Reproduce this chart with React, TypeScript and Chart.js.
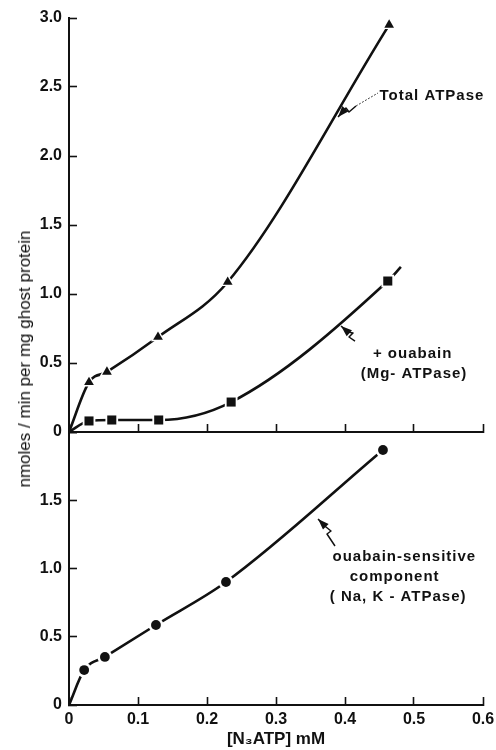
import React, { useEffect, useRef } from 'react';
import { Chart, registerables } from 'chart.js';

Chart.register(...registerables);

const FONT = '"Liberation Sans", Arial, Helvetica, sans-serif';
const INK = '#111';

// Tick labels
const X_TICKS = ['0', '0.1', '0.2', '0.3', '0.4', '0.5', '0.6'];
const TOP_Y_TICKS = ['0', '0.5', '1.0', '1.5', '2.0', '2.5', '3.0'];
const BOTTOM_Y_TICKS = ['0', '0.5', '1.0', '1.5', ''];

// Total ATPase (triangles)
const TOTAL_X = [0.029, 0.055, 0.129, 0.23, 0.464];
const TOTAL_Y = [0.36, 0.435, 0.688, 1.087, 2.95];

// + ouabain (Mg-ATPase) (squares)
const OUABAIN_X = [0.029, 0.062, 0.13, 0.235, 0.462];
const OUABAIN_Y = [0.08, 0.087, 0.087, 0.217, 1.094];
const OUABAIN_CURVE_END = { x: 0.481, y: 1.196 };

// ouabain-sensitive component (Na,K-ATPase) (circles)
const SENSITIVE_X = [0.022, 0.052, 0.126, 0.2275, 0.455];
const SENSITIVE_Y = [0.256, 0.352, 0.586, 0.901, 1.868];

const CURVE_ORIGIN = { x: 0, y: 0 };

type P = { x: number; y: number };
type Note = {
  texts: { t: string; x: number; y: number }[];
  arrow: P[];
  tail?: P[];
};

const TOP_NOTES: Note[] = [
  {
    texts: [{ t: 'Total ATPase', x: 0.526, y: 2.435 }],
    arrow: [
      { x: 0.3899, y: 2.2826 },
      { x: 0.4014, y: 2.3478 },
      { x: 0.4058, y: 2.3188 },
      { x: 0.4159, y: 2.3623 },
    ],
    tail: [
      { x: 0.4159, y: 2.3623 },
      { x: 0.4478, y: 2.4565 },
    ],
  },
  {
    texts: [
      { t: '+ ouabain', x: 0.498, y: 0.565 },
      { t: '(Mg- ATPase)', x: 0.5, y: 0.42 },
    ],
    arrow: [
      { x: 0.3942, y: 0.7681 },
      { x: 0.4043, y: 0.7246 },
      { x: 0.4116, y: 0.7174 },
      { x: 0.4058, y: 0.6884 },
      { x: 0.4145, y: 0.6594 },
    ],
  },
];

const BOTTOM_NOTES: Note[] = [
  {
    texts: [
      { t: 'ouabain-sensitive', x: 0.486, y: 1.084 },
      { t: 'component', x: 0.472, y: 0.938 },
      { t: '( Na, K - ATPase)', x: 0.477, y: 0.791 },
    ],
    arrow: [
      { x: 0.3609, y: 1.3626 },
      { x: 0.3725, y: 1.304 },
      { x: 0.3797, y: 1.2747 },
      { x: 0.3739, y: 1.2527 },
      { x: 0.3855, y: 1.1648 },
    ],
  },
];

const pts = (xs: number[], ys: number[]): P[] => xs.map((x, i) => ({ x, y: ys[i] }));

function seriesDatasets(points: P[], curve: P[], style: string, radius: number): any[] {
  return [
    {
      data: curve,
      showLine: true,
      borderColor: INK,
      borderWidth: 2.6,
      pointRadius: 0,
      cubicInterpolationMode: 'monotone',
      fill: false,
      order: 2,
    },
    {
      data: points,
      showLine: false,
      pointStyle: style,
      pointRadius: radius + 2.6,
      pointBackgroundColor: '#fff',
      pointBorderWidth: 0,
      order: 1,
    },
    {
      data: points,
      showLine: false,
      pointStyle: style,
      pointRadius: radius,
      pointBackgroundColor: INK,
      pointBorderWidth: 0,
      order: 0,
    },
  ];
}

const makeNotesPlugin = (notes: Note[]) => ({
  id: 'notes',
  afterDatasetsDraw(chart: any) {
    const ctx: CanvasRenderingContext2D = chart.ctx;
    const xs = chart.scales.x;
    const ys = chart.scales.y;
    const px = (p: P): [number, number] => [xs.getPixelForValue(p.x), ys.getPixelForValue(p.y)];
    ctx.save();
    notes.forEach((n) => {
      ctx.fillStyle = INK;
      ctx.strokeStyle = INK;
      ctx.font = `bold 15px ${FONT}`;
      (ctx as any).letterSpacing = '1px';
      ctx.textAlign = 'center';
      ctx.textBaseline = 'middle';
      n.texts.forEach((t) => {
        const [x, y] = px(t);
        ctx.fillText(t.t, x, y);
      });
      (ctx as any).letterSpacing = '0px';
      const p = n.arrow.map(px);
      ctx.lineWidth = 1.5;
      ctx.lineJoin = 'round';
      ctx.setLineDash([]);
      ctx.beginPath();
      ctx.moveTo(p[0][0], p[0][1]);
      for (let i = 1; i < p.length; i++) ctx.lineTo(p[i][0], p[i][1]);
      ctx.stroke();
      const [tx, ty] = p[0];
      const [bx, by] = p[1];
      const a = Math.atan2(ty - by, tx - bx);
      const L = 11;
      const W = 4;
      const c = Math.cos(a);
      const s = Math.sin(a);
      ctx.beginPath();
      ctx.moveTo(tx, ty);
      ctx.lineTo(tx - L * c + W * s, ty - L * s - W * c);
      ctx.lineTo(tx - L * c - W * s, ty - L * s + W * c);
      ctx.closePath();
      ctx.fill();
      if (n.tail) {
        const t = n.tail.map(px);
        ctx.lineWidth = 0.8;
        ctx.setLineDash([2, 1.5]);
        ctx.beginPath();
        ctx.moveTo(t[0][0], t[0][1]);
        for (let i = 1; i < t.length; i++) ctx.lineTo(t[i][0], t[i][1]);
        ctx.stroke();
        ctx.setLineDash([]);
      }
    });
    ctx.restore();
  },
});

const axisFont = { family: FONT, size: 16, weight: 'bold' as const };

function xScale(showLabels: boolean): any {
  return {
    type: 'linear',
    min: 0,
    max: 0.6,
    border: { display: true, color: INK, width: 2 },
    grid: {
      display: true,
      drawOnChartArea: false,
      drawTicks: true,
      tickLength: -8,
      tickWidth: 1.6,
      tickColor: INK,
    },
    ticks: {
      display: showLabels,
      stepSize: 0.1,
      padding: 13,
      color: INK,
      font: axisFont,
      maxRotation: 0,
      autoSkip: false,
      callback: (v: number) => X_TICKS[Math.round(v * 10)] ?? '',
    },
    title: showLabels
      ? {
          display: true,
          text: '[N₃ATP] mM',
          color: INK,
          font: { family: FONT, size: 17, weight: 'bold' },
          padding: { top: 0, bottom: 0 },
        }
      : { display: false },
    afterFit: (s: any) => {
      s.height = showLabels ? 45 : 0;
      s.paddingLeft = 0;
      s.paddingRight = 0;
    },
  };
}

function yScale(max: number, labels: string[]): any {
  return {
    type: 'linear',
    min: 0,
    max,
    border: { display: true, color: INK, width: 2 },
    grid: {
      display: true,
      drawOnChartArea: false,
      drawTicks: true,
      tickLength: -8,
      tickWidth: 1.6,
      tickColor: INK,
    },
    ticks: {
      stepSize: 0.5,
      padding: 15,
      color: INK,
      font: axisFont,
      autoSkip: false,
      callback: (v: number) => labels[Math.round(v * 2)] ?? '',
    },
    afterFit: (s: any) => {
      s.width = 69;
      s.paddingTop = 0;
      s.paddingBottom = 0;
    },
  };
}

const commonOptions = (padding: any, xs: any, ys: any): any => ({
  responsive: false,
  animation: false,
  events: [],
  layout: { padding },
  plugins: { legend: { display: false }, tooltip: { enabled: false } },
  scales: { x: xs, y: ys },
});

export default function App() {
  const topRef = useRef<HTMLCanvasElement>(null);
  const botRef = useRef<HTMLCanvasElement>(null);

  useEffect(() => {
    const top = new Chart(topRef.current as HTMLCanvasElement, {
      type: 'scatter',
      data: {
        datasets: [
          ...seriesDatasets(
            pts(TOTAL_X, TOTAL_Y),
            [CURVE_ORIGIN, ...pts(TOTAL_X, TOTAL_Y)],
            'triangle',
            5.6
          ),
          ...seriesDatasets(
            pts(OUABAIN_X, OUABAIN_Y),
            [CURVE_ORIGIN, ...pts(OUABAIN_X, OUABAIN_Y), OUABAIN_CURVE_END],
            'rect',
            6.4
          ),
        ],
      },
      options: commonOptions(
        { left: 0, right: 13, top: 18, bottom: 16 },
        xScale(false),
        yScale(3, TOP_Y_TICKS)
      ),
      plugins: [makeNotesPlugin(TOP_NOTES)],
    } as any);

    const bot = new Chart(botRef.current as HTMLCanvasElement, {
      type: 'scatter',
      data: {
        datasets: [
          ...seriesDatasets(
            pts(SENSITIVE_X, SENSITIVE_Y),
            [CURVE_ORIGIN, ...pts(SENSITIVE_X, SENSITIVE_Y)],
            'circle',
            4.9
          ),
        ],
      },
      options: commonOptions(
        { left: 0, right: 13, top: 8, bottom: 0 },
        xScale(true),
        yScale(2, BOTTOM_Y_TICKS)
      ),
      plugins: [makeNotesPlugin(BOTTOM_NOTES)],
    } as any);

    return () => {
      top.destroy();
      bot.destroy();
    };
  }, []);

  return (
    <div
      style={{
        position: 'absolute',
        left: 0,
        top: 0,
        width: 496,
        height: 750,
        background: '#fff',
        overflow: 'hidden',
      }}
    >
      <canvas
        ref={botRef}
        width={496}
        height={326}
        style={{ position: 'absolute', left: 0, top: 424, width: 496, height: 326 }}
      />
      <canvas
        ref={topRef}
        width={496}
        height={448}
        style={{ position: 'absolute', left: 0, top: 0, width: 496, height: 448 }}
      />
      <div
        style={{
          position: 'absolute',
          left: 25,
          top: 359,
          transform: 'translate(-50%, -50%) rotate(-90deg)',
          whiteSpace: 'nowrap',
          font: `17px ${FONT}`,
          color: INK,
        }}
      >
        nmoles / min per mg ghost protein
      </div>
    </div>
  );
}
